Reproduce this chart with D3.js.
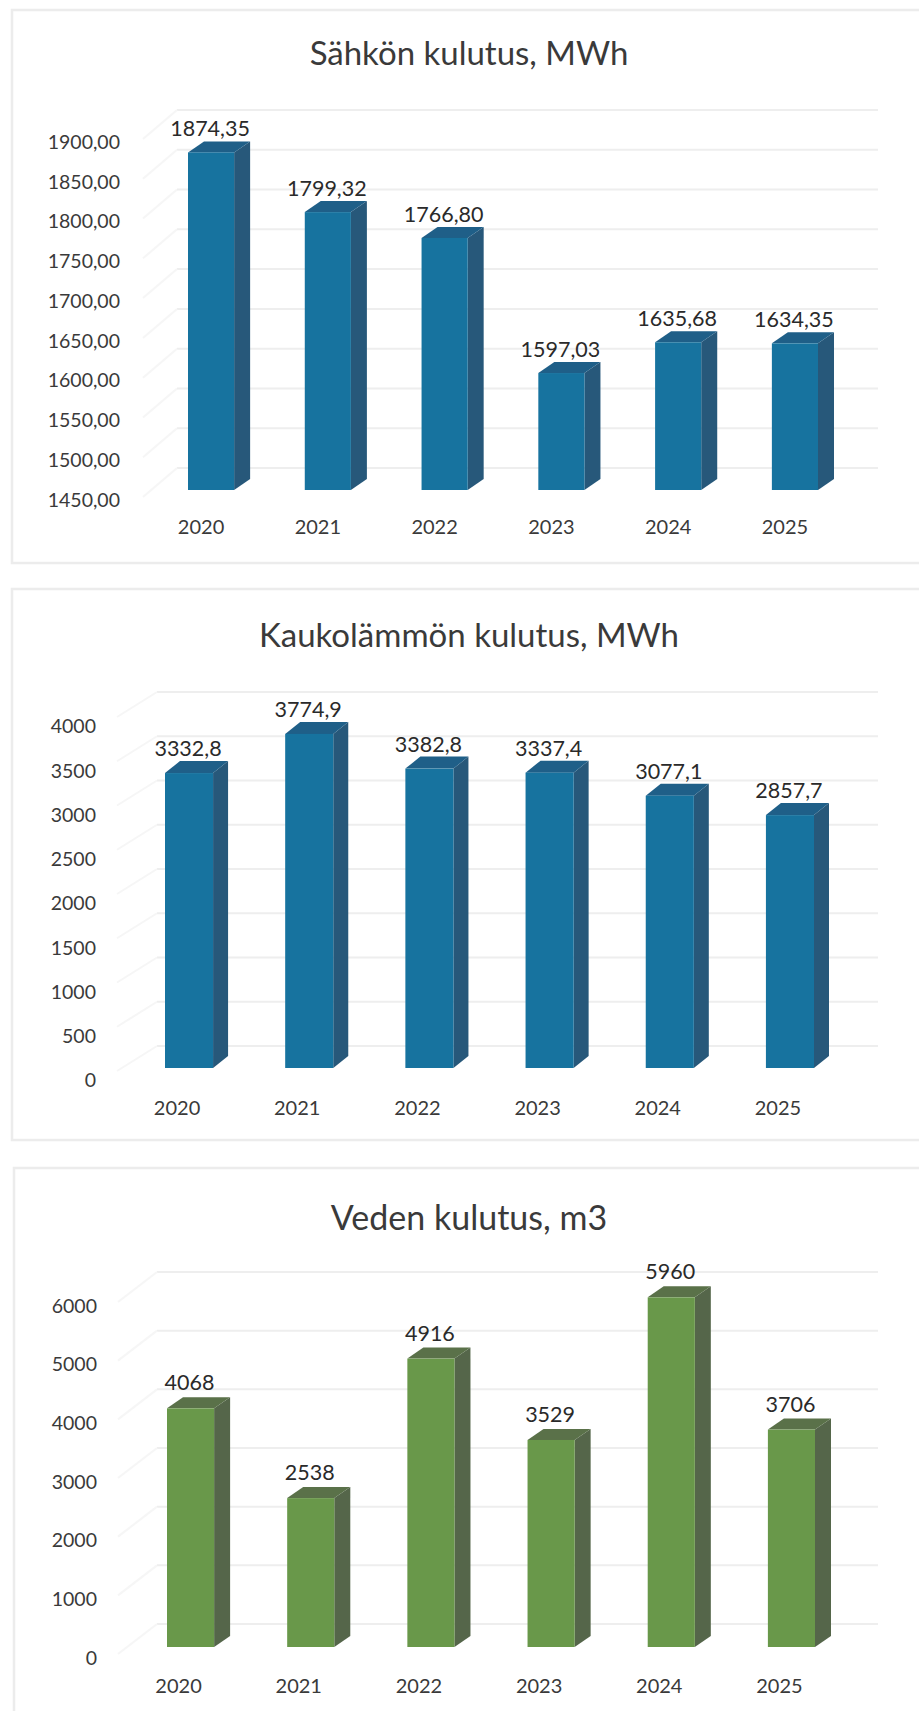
<!DOCTYPE html>
<html>
<head>
<meta charset="utf-8">
<script src="https://cdn.jsdelivr.net/npm/d3@7"></script>
<style>
  html, body { margin: 0; background: #fff; }
  svg { display: block; font-family: Lato, "Open Sans", sans-serif; }
</style>
</head>
<body>
<svg id="chart" width="919" height="1711"></svg>
<script>
const years = ['2020', '2021', '2022', '2023', '2024', '2025']

const electricity = [1874.35, 1799.32, 1766.80, 1597.03, 1635.68, 1634.35]
const heating = [3332.8, 3774.9, 3382.8, 3337.4, 3077.1, 2857.7]
const water = [4068, 2538, 4916, 3529, 5960, 3706]

const electricityTicks = [1450, 1500, 1550, 1600, 1650, 1700, 1750, 1800, 1850, 1900]
const heatingTicks = [0, 500, 1000, 1500, 2000, 2500, 3000, 3500, 4000]
const waterTicks = [0, 1000, 2000, 3000, 4000, 5000, 6000]

const blue = {front: '#17739f', side: '#27587a', top: '#1f5f88'}
const green = {front: '#69984a', side: '#55664a', top: '#5a7149'}

const fi = d3.formatLocale({decimal: ',', thousands: '', grouping: [3], currency: ['', '']})

const svg = d3.select('#chart')

const drawChart = c => {
    const g = svg.append('g')

    //panel, runs off the right edge of the page
    g.append('rect')
        .attr('x', c.panel[0]).attr('y', c.panel[1])
        .attr('width', 1000).attr('height', c.panel[2] - c.panel[1])
        .attr('fill', '#fff').attr('stroke', '#ececec').attr('stroke-width', 2.5)

    g.append('text')
        .attr('x', 469).attr('y', c.titleY)
        .attr('text-anchor', 'middle').attr('dominant-baseline', 'central')
        .attr('font-size', c.titleSize).attr('fill', '#3a3a3a')
        .text(c.title)

    const x = d3.scaleBand().domain(years).range(c.xRange).paddingInner(c.pad)
    const y = d3.scaleLinear().domain(d3.extent(c.ticks)).range(c.yRange)
    const bw = x.bandwidth()
    const base = y.range()[0]

    //back wall gridlines and their short run down the side wall
    const grid = g.append('g').attr('fill', 'none').attr('stroke', '#eeeeee').attr('stroke-width', 2)
    c.ticks.forEach(t => {
        const gy = y(t) - c.wallDrop
        grid.append('line')
            .attr('x1', c.wallX).attr('x2', 878)
            .attr('y1', gy).attr('y2', gy)
        grid.append('line')
            .attr('x1', c.wallX - c.sideRun[0]).attr('x2', c.wallX)
            .attr('y1', gy + c.sideRun[1]).attr('y2', gy)
            .attr('stroke', '#f6f6f6')
    })

    const yAxis = d3.axisLeft(y).tickValues(c.ticks).tickSize(0).tickPadding(0).tickFormat(c.tickFormat)
    const yG = g.append('g').attr('transform', `translate(${c.tickX},${c.tickShift})`).call(yAxis)
    const xAxis = d3.axisBottom(x).tickSize(0).tickPadding(0)
    const xG = g.append('g').attr('transform', `translate(${c.catShift},${c.catY})`).call(xAxis)
    g.selectAll('.domain').remove()
    g.selectAll('.tick line').remove()
    g.selectAll('.tick text')
        .attr('font-family', 'Lato, "Open Sans", sans-serif')
        .attr('fill', '#3a3a3a')
    yG.selectAll('.tick text').attr('font-size', 19.5)
    xG.selectAll('.tick text').attr('font-size', 20)

    const bars = g.append('g').selectAll('g').data(c.values).join('g')
    const dx = c.depth[0], dy = c.depth[1]

    bars.append('polygon')
        .attr('fill', c.colors.side)
        .attr('points', (d, i) => {
            const r = x(years[i]) + bw
            return [[r, y(d)], [r + dx, y(d) - dy], [r + dx, base - dy], [r, base]].join(' ')
        })
    bars.append('polygon')
        .attr('fill', c.colors.top)
        .attr('points', (d, i) => {
            const l = x(years[i])
            return [[l, y(d)], [l + dx, y(d) - dy], [l + bw + dx, y(d) - dy], [l + bw, y(d)]].join(' ')
        })
    bars.append('rect')
        .attr('fill', c.colors.front)
        .attr('x', (d, i) => x(years[i]))
        .attr('y', d => y(d))
        .attr('width', bw)
        .attr('height', d => base - y(d))

    bars.append('text')
        .attr('x', (d, i) => x(years[i]) + bw / 2 - 1)
        .attr('y', d => y(d) - c.labelGap)
        .attr('text-anchor', 'middle').attr('dominant-baseline', 'central')
        .attr('font-size', 21.5).attr('fill', '#2a2a2a')
        .text(c.labelFormat)
}

drawChart({
    title: 'Sähkön kulutus, MWh', titleY: 52, titleSize: 33,
    panel: [12, 10, 563],
    values: electricity, ticks: electricityTicks, colors: blue,
    xRange: [188, 818], pad: 0.605, yRange: [490, 132],
    depth: [16, 11], wallX: 177, wallDrop: 22, sideRun: [34, 29],
    tickX: 120, tickShift: 10, catShift: -10, catY: 520,
    labelGap: 24,
    tickFormat: fi.format('.2f'), labelFormat: fi.format('.2f')
})

drawChart({
    title: 'Kaukolämmön kulutus, MWh', titleY: 634, titleSize: 33,
    panel: [12, 589, 1140],
    values: heating, ticks: heatingTicks, colors: blue,
    xRange: [165, 814], pad: 0.6, yRange: [1068, 714],
    depth: [15, 12], wallX: 157, wallDrop: 22, sideRun: [40, 25],
    tickX: 96, tickShift: 12.5, catShift: -12, catY: 1101,
    labelGap: 25,
    tickFormat: d3.format('d'), labelFormat: fi.format('.1f')
})

drawChart({
    title: 'Veden kulutus, m3', titleY: 1216, titleSize: 34,
    panel: [14, 1168, 1760],
    values: water, ticks: waterTicks, colors: green,
    xRange: [167, 815], pad: 0.608, yRange: [1647, 1295],
    depth: [16, 11], wallX: 157, wallDrop: 23, sideRun: [39, 30],
    tickX: 97, tickShift: 11, catShift: -12, catY: 1679,
    labelGap: 26,
    tickFormat: d3.format('d'), labelFormat: d3.format('d')
})
</script>
</body>
</html>
